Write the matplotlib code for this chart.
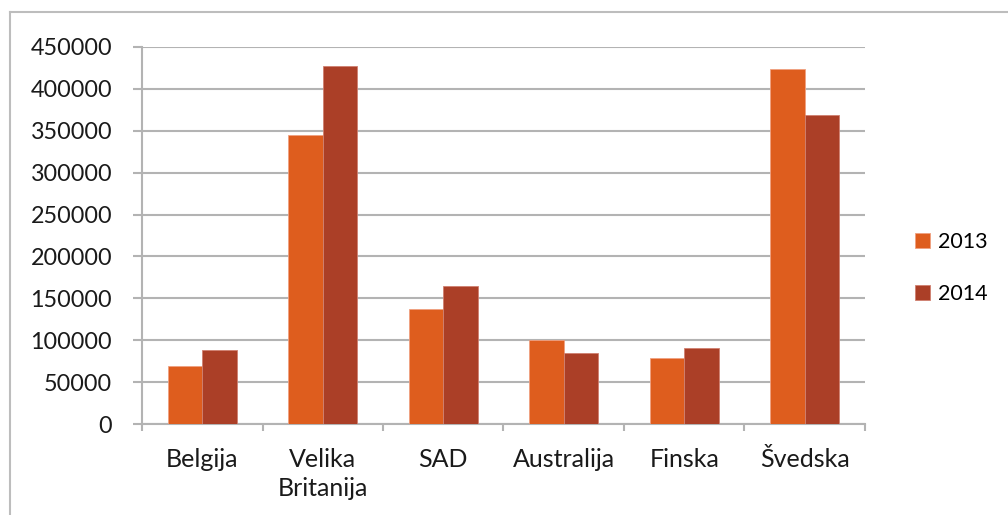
import matplotlib.pyplot as plt
import numpy as np
from matplotlib.lines import Line2D

# Podaci
categories = ['Belgija', 'Velika\nBritanija', 'SAD', 'Australija', 'Finska', 'Švedska']
values_2013 = [70000, 344500, 138000, 100500, 79000, 423000]
values_2014 = [88500, 426500, 164500, 85000, 91300, 369000]
series_labels = ['2013', '2014']
y_ticks = [0, 50000, 100000, 150000, 200000, 250000, 300000, 350000, 400000, 450000]

color_2013 = '#DE5D1E'
color_2014 = '#AB3F27'
grid_color = '#B3B3B3'

plt.rcParams['font.family'] = ['Lato', 'DejaVu Sans']

fig = plt.figure(figsize=(10.08, 5.15), dpi=100)
ax = fig.add_axes([0.1409, 0.1761, 0.8581 - 0.1409, 0.9093 - 0.1761])

x = np.arange(len(categories))
w = 0.2865
ax.bar(x - w / 2, values_2013, width=w, color=color_2013, edgecolor='#F0A080',
       linewidth=0.6, label=series_labels[0], zorder=3)
ax.bar(x + w / 2, values_2014, width=w, color=color_2014, edgecolor='#D08070',
       linewidth=0.6, label=series_labels[1], zorder=3)

ax.set_xlim(-0.5, len(categories) - 0.5)
ax.set_ylim(0, 450000)
ax.set_yticks(y_ticks)
ax.set_yticklabels([str(v) for v in y_ticks], fontsize=16.8, color='#1a1a1a')
ax.yaxis.grid(True, color=grid_color, linewidth=1.5, zorder=0)
ax.tick_params(axis='y', length=6.5, width=1.5, color=grid_color, pad=15)

ax.set_xticks(x)
ax.set_xticklabels(categories, fontsize=18, color='#1a1a1a', linespacing=1.3)
ax.set_xticks(np.arange(len(categories) + 1) - 0.5, minor=True)
ax.tick_params(axis='x', which='major', length=0, pad=17)
ax.tick_params(axis='x', which='minor', length=5, width=1.5, color=grid_color)

for side in ['top', 'right']:
    ax.spines[side].set_visible(False)
ax.spines['left'].set_color(grid_color)
ax.spines['left'].set_linewidth(1.5)
ax.spines['bottom'].set_color(grid_color)
ax.spines['bottom'].set_linewidth(1.5)

fig.legend(loc='center left', bbox_to_anchor=(915 / 1008, 0.4796), frameon=False,
           fontsize=15.5, handlelength=0.7, handleheight=0.7, handletextpad=0.35,
           labelspacing=1.45, borderpad=0, borderaxespad=0)

# okvir oko grafikona
fig.add_artist(Line2D([0.0099, 0.0099], [0.0, 0.9767], color='#BDBDBD', linewidth=1.5))
fig.add_artist(Line2D([0.0099, 1.0], [0.9767, 0.9767], color='#BDBDBD', linewidth=1.5))

plt.savefig('out.png', dpi=100)
plt.close()
